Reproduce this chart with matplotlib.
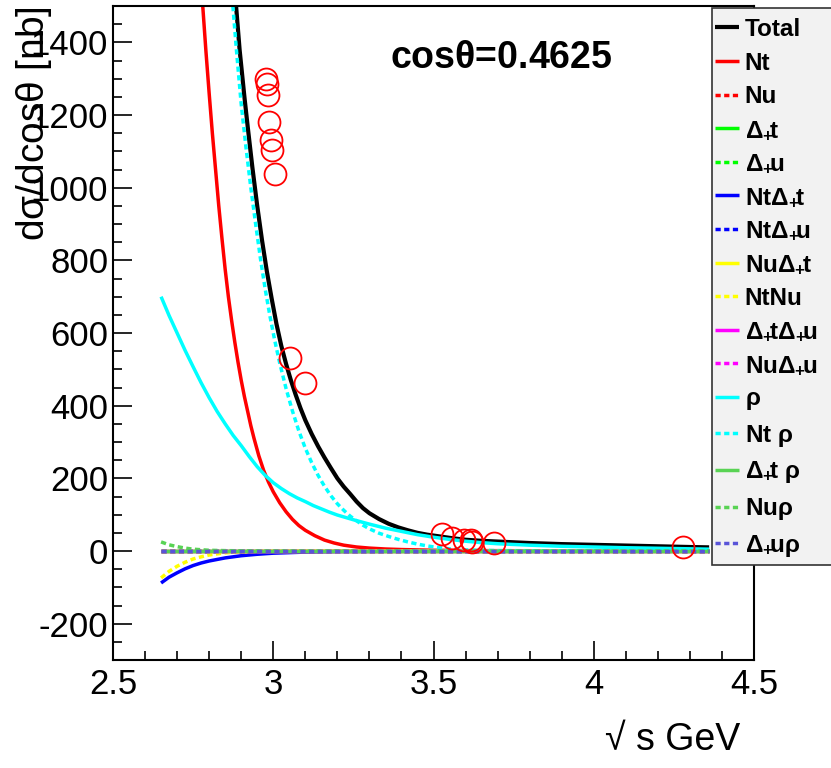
import matplotlib
matplotlib.use('Agg')
import matplotlib.pyplot as plt
from matplotlib.patches import Rectangle
from matplotlib.ticker import MultipleLocator

plt.rcParams['font.family'] = ['Liberation Sans', 'DejaVu Sans']
plt.rcParams['axes.unicode_minus'] = False
plt.rcParams['mathtext.fontset'] = 'custom'
plt.rcParams['mathtext.rm'] = 'Liberation Sans'
plt.rcParams['mathtext.it'] = 'Liberation Sans:italic'
plt.rcParams['mathtext.bf'] = 'Liberation Sans:bold'
plt.rcParams['mathtext.default'] = 'regular'

# ---------------- data ----------------
x_total = [2.884, 2.895, 2.91, 2.92, 2.935, 2.95, 2.965, 2.98, 2.995, 3.01, 3.025, 3.04,
           3.055, 3.07, 3.085, 3.10, 3.12, 3.14, 3.16, 3.18, 3.20, 3.22, 3.24, 3.26,
           3.28, 3.30, 3.33, 3.36, 3.39, 3.42, 3.45, 3.48, 3.52, 3.56, 3.60, 3.65,
           3.70, 3.80, 3.90, 4.00, 4.10, 4.20, 4.30, 4.36]
total = [1500, 1380, 1250, 1170, 1055, 950, 855, 770, 695, 625, 565, 515,
         470, 430, 393, 360, 322, 288, 257, 228, 200, 177, 157, 136,
         118, 104, 88, 75, 65, 57, 50, 45, 40, 35, 31, 28,
         26, 22, 19, 17, 15, 13, 11, 10]

x_nt = [2.78, 2.79, 2.80, 2.81, 2.82, 2.83, 2.84, 2.85, 2.86, 2.87, 2.88, 2.89, 2.90,
        2.91, 2.92, 2.93, 2.94, 2.955, 2.97, 2.985, 3.00, 3.02, 3.04, 3.06, 3.08,
        3.10, 3.13, 3.16, 3.19, 3.22, 3.26, 3.30, 3.35, 3.40, 3.50, 3.60, 3.80,
        4.00, 4.36]
nt = [1500, 1375, 1260, 1150, 1050, 950, 860, 775, 700, 635, 575, 520, 470,
      425, 385, 345, 310, 262, 222, 190, 163, 133, 108, 87, 70,
      57, 42, 30, 22, 16, 11, 8, 5.5, 4, 2, 1.2, 0.6,
      0.4, 0.2]

x_rho = [2.65, 2.675, 2.70, 2.725, 2.75, 2.775, 2.80, 2.825, 2.85, 2.875, 2.90, 2.925,
         2.95, 2.975, 3.00, 3.025, 3.05, 3.075, 3.10, 3.125, 3.15, 3.175, 3.20, 3.25,
         3.30, 3.35, 3.40, 3.45, 3.50, 3.55, 3.60, 3.65, 3.70, 3.80, 3.90, 4.00,
         4.10, 4.20, 4.30, 4.36]
rho = [700, 648, 600, 552, 507, 463, 422, 384, 350, 318, 290, 260,
       232, 208, 188, 172, 158, 146, 136, 125, 116, 107, 99, 86,
       74, 63, 54, 45, 38, 32, 27, 23, 20, 16, 13, 11,
       9, 7.5, 6, 5]

x_ntrho = [2.874, 2.885, 2.90, 2.915, 2.93, 2.945, 2.96, 2.975, 2.99, 3.005, 3.02, 3.04,
           3.06, 3.08, 3.10, 3.12, 3.14, 3.16, 3.18, 3.20, 3.22, 3.24, 3.26, 3.28,
           3.30, 3.33, 3.36, 3.39, 3.42, 3.45, 3.48, 3.51, 3.55, 3.60, 3.70, 4.00, 4.36]
ntrho = [1500, 1380, 1230, 1110, 1000, 900, 805, 720, 645, 578, 518, 447,
         385, 330, 283, 243, 208, 178, 152, 130, 112, 96, 83, 71,
         61, 49, 40, 32, 25, 19, 14, 10, 6, 3, 1, 0.3, 0.1]

x_ntdt = [2.65, 2.675, 2.70, 2.725, 2.75, 2.775, 2.80, 2.85, 2.90, 2.95, 3.00, 3.10,
          3.20, 3.40, 3.60, 4.00, 4.36]
ntdt = [-88, -72, -60, -49, -40, -33, -27.5, -19, -13, -9, -6, -3,
        -1.5, -0.5, -0.2, 0, 0]

x_ntnu = [2.65, 2.675, 2.70, 2.725, 2.75, 2.775, 2.80, 2.85, 2.90, 2.95, 3.00, 3.20, 4.36]
ntnu = [-74, -56, -42, -31, -22, -16, -11, -5, -2.5, -1, -0.5, 0, 0]

x_nurho = [2.65, 2.675, 2.70, 2.725, 2.75, 2.80, 2.85, 2.90, 3.00, 4.36]
nurho = [25, 17, 12, 8, 5, 2, 1, 0.5, 0, 0]

x_flat = [2.65, 4.36]
flat = [0, 0]

data_x = [2.978, 2.982, 2.985, 2.9875, 2.994, 2.996, 3.006, 3.053, 3.10,
          3.527, 3.558, 3.595, 3.616, 3.62, 3.69, 4.277]
data_y = [1300, 1286, 1254, 1181, 1130, 1103, 1037, 531, 462,
          46, 35, 30, 30, 26, 21, 10]

xticks = [2.5, 3.0, 3.5, 4.0, 4.5]
xtick_labels = ["2.5", "3", "3.5", "4", "4.5"]
yticks = [-200, 0, 200, 400, 600, 800, 1000, 1200, 1400]
ytick_labels = ["-200", "0", "200", "400", "600", "800", "1000", "1200", "1400"]

D = r"$\Delta_{+}\!$"
labels = ["Total", "Nt", "Nu", D + "t", D + "u", "Nt" + D + "t",
          "Nt" + D + "u", "Nu" + D + "t", "NtNu", D + "t" + D + "u",
          "Nu" + D + "u", r"$\rho$", r"Nt $\rho$", D + r"t $\rho$",
          r"Nu$\rho$", D + r"u$\rho$"]

# ---------------- figure ----------------
W, H = 831, 768
fig = plt.figure(figsize=(W / 100, H / 100), dpi=100)
ax = fig.add_axes([113 / W, 108 / H, 641 / W, 654 / H])

dash = (0, (1.5, 1.0))
lw = 2.5
series = [
    (x_total, total, 'black', '-', 3.0),
    (x_nt, nt, 'red', '-', lw),
    (x_flat, flat, 'red', dash, lw),
    (x_flat, flat, '#00ff00', '-', lw),
    (x_flat, flat, '#00ff00', dash, lw),
    (x_ntdt, ntdt, 'blue', '-', lw),
    (x_flat, flat, 'blue', dash, lw),
    (x_flat, flat, 'yellow', '-', lw),
    (x_ntnu, ntnu, 'yellow', dash, lw),
    (x_flat, flat, 'magenta', '-', lw),
    (x_flat, flat, 'magenta', dash, lw),
    (x_rho, rho, 'cyan', '-', lw),
    (x_ntrho, ntrho, 'cyan', dash, lw),
    (x_flat, flat, '#59d354', '-', lw),
    (x_nurho, nurho, '#59d354', dash, lw),
    (x_flat, flat, '#5954d8', dash, lw),
]
handles = []
for (xs, ys, c, ls, w), lab in zip(series, labels):
    h, = ax.plot(xs, ys, color=c, linestyle=ls, linewidth=w, label=lab,
                 solid_capstyle='butt', dash_capstyle='butt', solid_joinstyle='round')
    handles.append(h)

ax.plot(data_x, data_y, linestyle='none', marker='o', markersize=15.8,
        markerfacecolor='none', markeredgecolor='red', markeredgewidth=1.3, zorder=5)

ax.set_xlim(2.5, 4.5)
ax.set_ylim(-300, 1500)
ax.set_xticks(xticks)
ax.set_xticklabels(xtick_labels)
ax.set_yticks(yticks)
ax.set_yticklabels(ytick_labels)
ax.xaxis.set_minor_locator(MultipleLocator(0.1))
ax.yaxis.set_minor_locator(MultipleLocator(50))
ax.tick_params(which='both', direction='in', top=False, right=False, width=1.2)
ax.tick_params(which='major', length=13.5, labelsize=25)
ax.tick_params(which='minor', length=6.7)
ax.tick_params(axis='x', pad=6)
ax.tick_params(axis='y', pad=3.5)
for s in ax.spines.values():
    s.set_linewidth(1.5)

ax.set_xlabel("√ s GeV", fontsize=27)
ax.xaxis.set_label_coords(0.978, -0.095)
ax.xaxis.label.set_ha('right')
ax.xaxis.label.set_va('top')

ax.set_ylabel(r"d$\sigma$/dcos$\theta$ [nb]", fontsize=28)
ax.yaxis.set_label_coords(-0.123, 1.0)
ax.yaxis.label.set_ha('right')
ax.yaxis.label.set_va('center')

ax.text((390 - 113) / 641, 0.921, r"cos$\theta$=0.4625", transform=ax.transAxes,
        fontsize=27, fontweight='bold', ha='left', va='center')

# legend box
rect = Rectangle((712 / W, (H - 565) / H), 0.2, (565 - 8) / H, transform=fig.transFigure,
                 facecolor='#f2f2f2', edgecolor='#333333', linewidth=1.2, zorder=3)
fig.patches.append(rect)
leg = fig.legend(handles, labels, loc='upper left',
                 bbox_to_anchor=(715 / W, 1 - 18 / H), bbox_transform=fig.transFigure,
                 frameon=False, prop={'size': 17.5, 'weight': 'bold'},
                 handlelength=0.97, handletextpad=0.25, labelspacing=0.435,
                 borderpad=0, borderaxespad=0)
leg.set_zorder(4)

fig.savefig('out.png', dpi=100)
